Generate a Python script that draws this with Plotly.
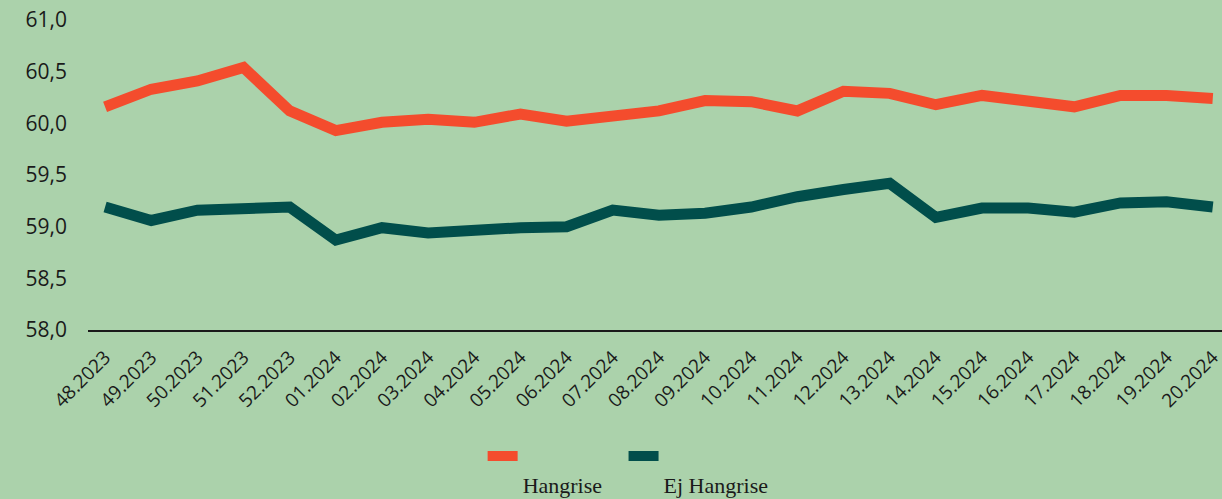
import plotly.graph_objects as go

weeks = ["48.2023", "49.2023", "50.2023", "51.2023", "52.2023",
         "01.2024", "02.2024", "03.2024", "04.2024", "05.2024",
         "06.2024", "07.2024", "08.2024", "09.2024", "10.2024",
         "11.2024", "12.2024", "13.2024", "14.2024", "15.2024",
         "16.2024", "17.2024", "18.2024", "19.2024", "20.2024"]

hangrise = [60.16, 60.33, 60.41, 60.54, 60.12, 59.93, 60.01, 60.04, 60.01, 60.09,
            60.02, 60.08, 60.12, 60.22, 60.21, 60.12, 60.31, 60.29, 60.18, 60.27,
            60.21, 60.16, 60.27, 60.27, 60.24]

ej_hangrise = [59.19, 59.06, 59.16, 59.17, 59.19, 58.87, 58.99, 58.94, 58.97, 58.99,
               59.00, 59.16, 59.11, 59.13, 59.19, 59.29, 59.36, 59.42, 59.09, 59.18,
               59.18, 59.14, 59.23, 59.24, 59.19]

y_ticks = [58.0, 58.5, 59.0, 59.5, 60.0, 60.5, 61.0]
y_tick_text = ["58,0", "58,5", "59,0", "59,5", "60,0", "60,5", "61,0"]

BG = "#abd2ab"
RED = "#f44c2d"
TEAL = "#014e4b"

fig = go.Figure()
fig.add_trace(go.Scatter(x=weeks, y=hangrise, mode="lines",
                         name="<br>Hangrise&nbsp;&nbsp;&nbsp;",
                         line=dict(color=RED, width=11)))
fig.add_trace(go.Scatter(x=weeks, y=ej_hangrise, mode="lines", name="<br>Ej Hangrise",
                         line=dict(color=TEAL, width=11)))

fig.update_layout(
    width=1222, height=499, autosize=False,
    paper_bgcolor=BG, plot_bgcolor=BG,
    margin=dict(l=88, r=0, t=20, b=169, autoexpand=False),
    font=dict(family="Open Sans, sans-serif", color="#1a1a1a", size=20),
    showlegend=True,
    legend=dict(orientation="h", x=0.348, xanchor="left",
                yref="container", y=0.128, yanchor="top",
                valign="top", bgcolor="rgba(0,0,0,0)",
                font=dict(family="Liberation Serif, serif", size=22, color="#1a1a1a"),
                traceorder="normal"),
    xaxis=dict(type="category", range=[-0.37, 24.2], showgrid=False, zeroline=False,
               showline=True, linecolor="#1a1a1a", linewidth=1.5, ticks="",
               tickangle=-45, ticklabelstandoff=7,
               tickfont=dict(family="Open Sans, sans-serif", size=19)),
    yaxis=dict(range=[58, 61], tickvals=y_ticks, ticktext=y_tick_text, showgrid=False,
               zeroline=False, showline=False, ticks="", ticklabelstandoff=20,
               tickfont=dict(family="Open Sans, sans-serif", size=21)),
)

fig.write_html("out.html",
               config={"displayModeBar": False},
               post_script="document.body.style.margin='0';document.body.style.padding='0';"
                           "document.body.style.overflow='hidden';"
                           "document.documentElement.style.overflow='hidden';")
